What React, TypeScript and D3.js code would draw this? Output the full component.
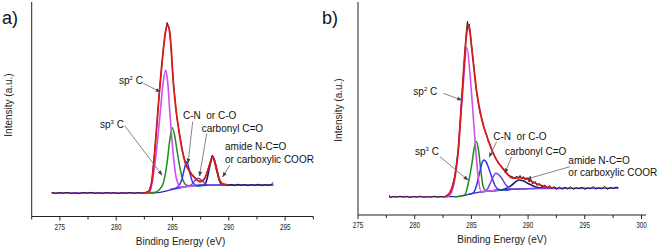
import React from "react";
import * as d3 from "d3";

type Pt = [number, number];

// ---- panel a) : binding energy (eV) vs intensity (a.u.) ----
const aMeasured: Pt[] = [
  [274.28, 23.5], [274.6, 22.6], [274.95, 23.3], [275.3, 22.8], [275.65, 23.6], [276.0, 22.5],
  [276.35, 23.1], [276.7, 22.4], [277.05, 23.4], [277.4, 22.9], [277.75, 23.7], [278.1, 22.6],
  [278.45, 23.2], [278.8, 22.5], [279.15, 23.5], [279.5, 22.8], [279.85, 23.4], [280.2, 22.4],
  [280.55, 23.3], [280.9, 22.7], [281.25, 23.6], [281.6, 22.6], [281.95, 23.4], [282.3, 22.8],
  [282.6, 23.6], [282.9, 25], [283.15, 33], [283.36, 57], [283.6, 89], [283.83, 124], [284.04, 149],
  [284.2, 168], [284.38, 185], [284.52, 193.5], [284.6, 190], [284.72, 187], [284.84, 172],
  [285.07, 135], [285.37, 100], [285.67, 79], [285.9, 64], [286.11, 55], [286.35, 48], [286.55, 45],
  [286.8, 40], [287.0, 38.5], [287.2, 35.5], [287.44, 34], [287.62, 35], [287.8, 37], [288.0, 41],
  [288.18, 48], [288.4, 56], [288.52, 61], [288.6, 59], [288.75, 53], [288.92, 45], [289.1, 38],
  [289.22, 35], [289.4, 32.5], [289.6, 31.6], [289.9, 30.5], [290.2, 31.6], [290.5, 30.3],
  [290.8, 31.8], [291.1, 30.6], [291.4, 31.5], [291.7, 30.2], [292.0, 31.4], [292.3, 30.5],
  [292.6, 31.8], [292.9, 30.4], [293.2, 31.3], [293.5, 30.6], [293.75, 31.5], [293.95, 33.5],
];
const aEnvelope: Pt[] = [
  [282.5, 23], [282.85, 24], [283.15, 34], [283.36, 56], [283.6, 90], [283.83, 123], [284.04, 150],
  [284.18, 166], [284.38, 184], [284.57, 191], [284.72, 186], [284.84, 174], [285.07, 134],
  [285.37, 101], [285.67, 78], [286.11, 54], [286.55, 44], [287.0, 38], [287.44, 34.5],
  [287.8, 36.5], [288.18, 47], [288.58, 59.5], [288.92, 46], [289.22, 35], [289.5, 31.8], [289.9, 31.2],
];
const aSp2: Pt[] = [
  [274.28, 23], [282.5, 23], [283.0, 24.3], [283.3, 41], [283.6, 67.7], [283.89, 101], [284.18, 134.3],
  [284.4, 146], [284.57, 134.3], [284.78, 101], [285.02, 67.7], [285.28, 41], [285.5, 32],
  [285.67, 29], [286.1, 29.2], [286.6, 29.9], [287.0, 30.3],
];
const aSp3: Pt[] = [
  [283.0, 23.2], [283.5, 23.8], [283.8, 26], [284.18, 32.7], [284.49, 51], [284.75, 75], [284.98, 88.3],
  [285.2, 80], [285.37, 67.7], [285.67, 47.7], [285.96, 35], [286.3, 30.5], [286.8, 30.2], [287.5, 30.5],
];
const aCN: Pt[] = [
  [284.8, 26.5], [285.2, 27.6], [285.51, 29.5], [285.82, 36], [286.05, 47], [286.26, 54.3],
  [286.45, 48], [286.55, 42.7], [286.85, 32.7], [287.15, 30.5], [287.6, 30.6], [288.2, 30.8],
];
const aCarbonyl: Pt[] = [
  [285.4, 27.2], [285.9, 29], [286.3, 29.8], [286.7, 31.5], [287.0, 35.5], [287.29, 37.7],
  [287.6, 35.5], [287.89, 32.5], [288.18, 31], [288.8, 30.9], [290.0, 31], [293.95, 31],
];
const aAmide: Pt[] = [
  [287.2, 30.4], [287.6, 30.6], [287.82, 31], [288.04, 36], [288.3, 49.3], [288.58, 59.3],
  [288.88, 49.3], [289.15, 36], [289.4, 31.2], [289.8, 31], [290.5, 31],
];
const aBackground: Pt[] = [
  [274.28, 23], [283.3, 23], [283.7, 23.4], [284.1, 24.1], [284.5, 25.1], [284.9, 26.3], [285.3, 27.4],
  [285.7, 28.4], [286.1, 29.2], [286.5, 29.8], [287.0, 30.3], [287.6, 30.6], [288.5, 30.9],
  [290.0, 31], [293.95, 31],
];

// ---- panel b) ----
const bMeasured: Pt[] = [
  [277.76, 18.8], [277.85, 16.2], [278.1, 17.6], [278.4, 16.8], [278.7, 17.9], [279.0, 16.9],
  [279.3, 17.7], [279.6, 16.6], [279.9, 17.5], [280.2, 16.9], [280.5, 17.8], [280.8, 16.7],
  [281.1, 17.4], [281.4, 16.8], [281.7, 17.9], [282.0, 16.9], [282.3, 17.6], [282.6, 17.0],
  [282.9, 18.2], [283.11, 21.5], [283.3, 27], [283.55, 38.5], [283.84, 63], [284.14, 114],
  [284.44, 164], [284.58, 186], [284.66, 193], [284.7, 188], [284.8, 190], [284.9, 182],
  [285.03, 167], [285.2, 150], [285.35, 133], [285.47, 121], [285.6, 112], [285.75, 101],
  [285.91, 96], [286.05, 89], [286.2, 83], [286.35, 79], [286.5, 72], [286.65, 70], [286.8, 64],
  [286.99, 60], [287.15, 55], [287.3, 53], [287.5, 49], [287.7, 47.5], [287.87, 44], [288.05, 42.5],
  [288.25, 39.5], [288.45, 38], [288.67, 37], [288.85, 35], [289.0, 38], [289.15, 35.5],
  [289.29, 38.5], [289.45, 35], [289.6, 37.5], [289.75, 34], [289.9, 36.5], [290.1, 32],
  [290.25, 34.5], [290.4, 30], [290.61, 32.5], [290.8, 28.5], [291.0, 30.5], [291.2, 27],
  [291.49, 29], [291.7, 26], [291.9, 28.5], [292.1, 25], [292.3, 27.5], [292.5, 24.5],
  [292.75, 27], [293.0, 24.8], [293.25, 26.8], [293.5, 25], [293.75, 27.2], [294.0, 24.6],
  [294.25, 26.5], [294.5, 25.2], [294.75, 26.9], [295.0, 24.7], [295.25, 26.3], [295.5, 25.3],
  [295.75, 27.4], [296.0, 24.9], [296.25, 26.4], [296.5, 25.1], [296.75, 27.8], [297.0, 24.6],
  [297.25, 26.6], [297.5, 25.4], [297.75, 27], [297.95, 26.5],
];
const bEnvelope: Pt[] = [
  [282.7, 17.5], [283.11, 21.5], [283.55, 38], [283.84, 64], [284.14, 113], [284.44, 163],
  [284.6, 182], [284.73, 189], [284.85, 184], [285.03, 166], [285.47, 122], [285.91, 95],
  [286.42, 76], [286.99, 59], [287.87, 44], [288.67, 36], [289.29, 36.5], [289.9, 35],
  [290.61, 31], [291.49, 27.5], [292.2, 26],
];
const bSp2: Pt[] = [
  [277.76, 17.3], [282.6, 17.3], [282.96, 17.6], [283.26, 22], [283.55, 36], [283.84, 63],
  [284.06, 96.5], [284.29, 130], [284.59, 166.5], [284.95, 130], [285.17, 97], [285.39, 63],
  [285.61, 36], [285.85, 22.5], [286.3, 22.7], [286.8, 23.2], [287.3, 23.7],
];
const bSp3: Pt[] = [
  [283.5, 17.3], [284.0, 17.7], [284.44, 19.5], [284.73, 31], [285.03, 49], [285.25, 66],
  [285.45, 72.6], [285.65, 62], [285.85, 42], [286.05, 27], [286.35, 22.8], [286.8, 23.2],
  [287.5, 23.9], [288.2, 24.4],
];
const bCN: Pt[] = [
  [284.8, 19.8], [285.17, 21], [285.45, 28.5], [285.74, 42], [285.95, 51.5], [286.08, 54],
  [286.3, 52], [286.49, 47], [286.79, 37], [287.08, 28.5], [287.37, 24.8], [287.8, 24.1], [288.5, 24.6],
];
const bCarbonyl: Pt[] = [
  [285.8, 22], [286.05, 22.4], [286.35, 24], [286.72, 32], [287.15, 40.7], [287.6, 37],
  [288.05, 29], [288.5, 25], [289.0, 24.9], [290.0, 25.3], [291.0, 25.6], [297.95, 25.7],
];
const bAmide: Pt[] = [
  [287.0, 23.4], [287.5, 23.9], [288.0, 25.2], [288.5, 28.3], [288.9, 32.2], [289.2, 34],
  [289.55, 33.2], [290.0, 30.5], [290.5, 27.8], [291.0, 26.2], [291.5, 25.7], [292.5, 25.7],
];
const bBackground: Pt[] = [
  [277.76, 17.3], [283.5, 17.3], [284.0, 17.7], [284.5, 18.9], [285.0, 20.3], [285.5, 21.4],
  [286.0, 22.2], [286.5, 22.9], [287.0, 23.4], [287.5, 23.9], [288.0, 24.3], [289.0, 24.9],
  [290.0, 25.3], [291.0, 25.6], [297.95, 25.7],
];

const aTickLabels = [275, 280, 285, 290, 295];
const bTickLabels = [275, 280, 285, 290, 295, 300];
const componentNames = ["sp2 C", "sp3 C", "C-N  or C-O", "carbonyl C=O", "amide N-C=O", "or carboxylic COOR"];

const FONT = "'Liberation Sans', Arial, sans-serif";

const colors = {
  bg: "#2b2bb8",
  amide: "#1b1b6e",
  sp3: "#1e8c1e",
  cn: "#3434f0",
  carbonyl: "#7044e6",
  sp2: "#d24ef2",
  data: "#1a1a1a",
  fit: "#d41c1c",
};

const Panel = ({ cfg }: { cfg: any }) => {
  const x = d3.scaleLinear().domain(cfg.xDomain).range(cfg.xRange);
  const y = d3.scaleLinear().domain(cfg.yDomain).range(cfg.yRange);
  const smooth = d3.line<Pt>().x(d => x(d[0])).y(d => y(d[1])).curve(d3.curveMonotoneX);
  const raw = d3.line<Pt>().x(d => x(d[0])).y(d => y(d[1]));
  const x0 = cfg.xRange[0];
  const x1 = cfg.xRange[1];
  const axisY = cfg.axisY;
  const minor = d3.range(cfg.minorStart, cfg.xDomain[1] + 0.01, 2.5);
  const s = cfg.series;
  const layers = [
    { d: s.bg, c: colors.bg, w: 1.3 },
    { d: s.amide, c: colors.amide, w: 1.6 },
    { d: s.sp3, c: colors.sp3, w: 1.5 },
    { d: s.cn, c: colors.cn, w: 1.5 },
    { d: s.carbonyl, c: colors.carbonyl, w: 1.5 },
    { d: s.sp2, c: colors.sp2, w: 1.6 },
  ];
  const ann = cfg.annotations;
  const sup = (base: string, n: string, rest: string) => (
    <>
      {base}
      <tspan dy={-4} fontSize={6}>{n}</tspan>
      <tspan dy={4}>{rest}</tspan>
    </>
  );
  return (
    <g>
      <text x={cfg.tagX} y={24} fontSize={18} fontFamily={FONT} fill="#111">{cfg.tag}</text>
      {/* axes */}
      <line x1={x0} x2={x0} y1={2} y2={axisY} stroke="#222" strokeWidth={1} />
      <line x1={x0} x2={x1} y1={axisY} y2={axisY} stroke="#222" strokeWidth={1} />
      {minor.map(v => (
        <line key={v} x1={x(v)} x2={x(v)} y1={axisY} y2={axisY + (v % 5 === 0 ? 4 : 3)} stroke="#222" strokeWidth={1} />
      ))}
      {cfg.tickLabels.map((v: number) => (
        <text key={v} x={x(v)} y={axisY + 13} fontSize={8.5} fontFamily={FONT} textAnchor="middle" fill="#222"
          textLength={10.5} lengthAdjust="spacingAndGlyphs">{v}</text>
      ))}
      <text x={(x0 + x1) / 2 + cfg.titleShift} y={axisY + 28} fontSize={10} fontFamily={FONT} textAnchor="middle" fill="#222">
        Binding Energy (eV)
      </text>
      <text transform={`translate(${cfg.yTitleX},${cfg.yTitleY}) rotate(-90)`} fontSize={10} fontFamily={FONT}
        textAnchor="middle" fill="#222">Intensity (a.u.)</text>

      {/* fitted components, measured data, envelope */}
      {layers.map((l, i) => (
        <path key={i} d={smooth(l.d) || ""} fill="none" stroke={l.c} strokeWidth={l.w} />
      ))}
      <path d={raw(s.data) || ""} fill="none" stroke={colors.data} strokeWidth={1} />
      <path d={smooth(s.fit) || ""} fill="none" stroke={colors.fit} strokeWidth={1.8} />

      {/* annotations */}
      {ann.map((a: any, i: number) => (
        <line key={i} x1={x(a.from[0])} y1={y(a.from[1])} x2={x(a.to[0])} y2={y(a.to[1])}
          stroke="#666" strokeWidth={0.8} markerEnd="url(#arrowHead)" />
      ))}
      <g fontSize={10} fontFamily={FONT} fill="#111">
        <text x={x(ann[0].at[0])} y={y(ann[0].at[1])}>{sup("sp", "2", " C")}</text>
        <text x={x(ann[1].at[0])} y={y(ann[1].at[1])}>{sup("sp", "3", " C")}</text>
        <text x={x(ann[2].at[0])} y={y(ann[2].at[1])} style={{ whiteSpace: "pre" }}>{componentNames[2]}</text>
        <text x={x(ann[3].at[0])} y={y(ann[3].at[1])}>{componentNames[3]}</text>
        <text x={x(ann[4].at[0])} y={y(ann[4].at[1])}>{componentNames[4]}</text>
        <text x={x(ann[4].at[0])} y={y(ann[4].at[1]) + 12.5}>{componentNames[5]}</text>
      </g>
    </g>
  );
};

const panelA = {
  tag: "a)",
  tagX: 2,
  xDomain: [272.5, 297.5],
  xRange: [31.7, 313.3],
  yDomain: [-0.5, 214],
  yRange: [216.5, 2],
  axisY: 216.5,
  minorStart: 272.5,
  tickLabels: aTickLabels,
  titleShift: 8,
  yTitleX: 12,
  yTitleY: 105,
  series: { data: aMeasured, fit: aEnvelope, sp2: aSp2, sp3: aSp3, cn: aCN, carbonyl: aCarbonyl, amide: aAmide, bg: aBackground },
  annotations: [
    { at: [280.25, 132], from: [282.41, 132.7], to: [283.89, 124.3] },
    { at: [278.56, 88.4], from: [280.78, 90], to: [284.07, 41] },
    { at: [285.93, 97.3], from: [286.79, 94.3], to: [286.38, 53] },
    { at: [287.59, 84], from: [288.04, 82.7], to: [287.4, 40] },
    { at: [289.66, 65.6], from: [290.1, 51], to: [289.46, 39.3] },
  ],
};

const panelB = {
  tag: "b)",
  tagX: 322,
  xDomain: [275, 300.4],
  xRange: [358, 646],
  yDomain: [-1, 212],
  yRange: [215, 2],
  axisY: 215,
  minorStart: 275,
  tickLabels: bTickLabels,
  titleShift: 0,
  yTitleX: 342,
  yTitleY: 110,
  series: { data: bMeasured, fit: bEnvelope, sp2: bSp2, sp3: bSp3, cn: bCN, carbonyl: bCarbonyl, amide: bAmide, bg: bBackground },
  annotations: [
    { at: [279.88, 118.6], from: [282.52, 120.7], to: [284.14, 114] },
    { at: [280.03, 58.6], from: [282.23, 57.3], to: [284.7, 34] },
    { at: [286.93, 73.6], from: [287.23, 72.3], to: [286.58, 57] },
    { at: [287.96, 58.6], from: [288.55, 57.3], to: [287.96, 41] },
    { at: [293.55, 50.3], from: [293.69, 47.3], to: [289.9, 35] },
  ],
};

export default function App() {
  return (
    <svg width={661} height={250} style={{ position: "absolute", left: 0, top: 0, background: "#fff" }}>
      <defs>
        <marker id="arrowHead" viewBox="0 0 10 10" refX={9} refY={5} markerWidth={5} markerHeight={5}
          orient="auto" markerUnits="userSpaceOnUse">
          <path d="M0,1 L10,5 L0,9 z" fill="#444" />
        </marker>
      </defs>
      <Panel cfg={panelA} />
      <Panel cfg={panelB} />
    </svg>
  );
}
